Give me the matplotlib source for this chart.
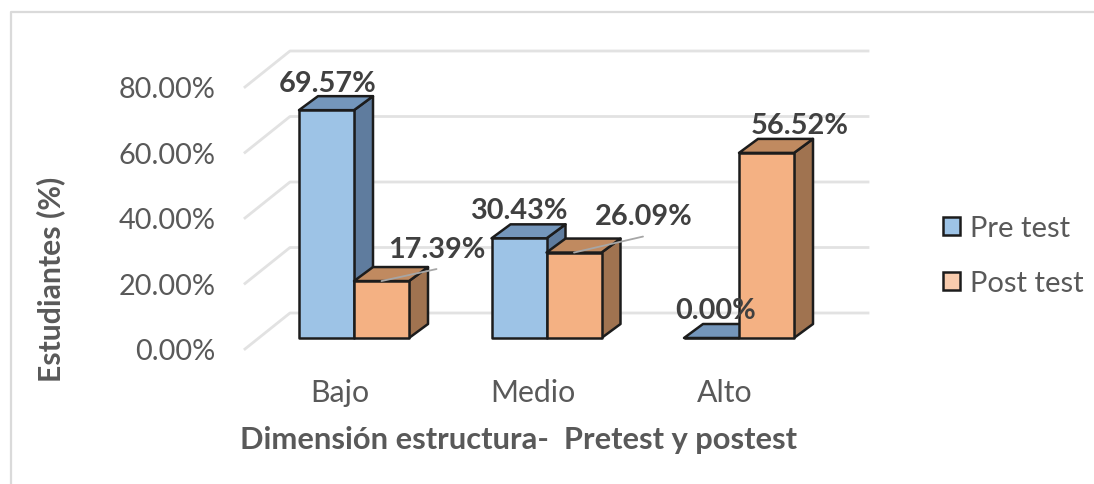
import matplotlib
matplotlib.use('Agg')
import matplotlib.pyplot as plt
from matplotlib.lines import Line2D
from matplotlib.patches import Patch, Polygon

plt.rcParams['font.family'] = ['Lato', 'DejaVu Sans']

categorias = ['Bajo', 'Medio', 'Alto']
pre_test = [69.57, 30.43, 0.00]
post_test = [17.39, 26.09, 56.52]
y_ticks = [0, 20, 40, 60, 80]

# desvio das etiquetas em pixels: (dx, dy) a partir do topo da barra
off_pre = [(1, 27), (0, 28), (4, 28)]
off_post = [(55, 32), (70, 37), (33, 28)]
# pontas das linhas guia (so onde a etiqueta ficou afastada)
guia_post = [(55, 12), (69, 16), None]

cor_pre = ('#9DC3E6', '#7496BB', '#5F7C9E')
cor_post = ('#F4B183', '#C08A60', '#A07350')
cor_borda = '#1C1C1C'

px_cat = 192.5
px_pct = 3.275
largura = 55 / px_cat
desvio = 14 / px_cat
fundo = 11 / px_pct
prof_x = 19 / px_cat
prof_y = 14 / px_pct
parede_x = 45 / px_cat
parede_y = 36 / px_pct

fig = plt.figure(figsize=(10.94, 4.85), dpi=100)
ax = fig.add_axes([245 / 1094, 135 / 485, 623 / 1094, 262 / 485])
ax.set_xlim(-95 / px_cat, 528 / px_cat)
ax.set_ylim(0, 80)
ax.patch.set_visible(False)
for s in ax.spines.values():
    s.set_visible(False)

x0, x1 = ax.get_xlim()
for t in y_ticks:
    ax.plot([x0, x0 + parede_x, x1], [t, t + parede_y, t + parede_y],
            color='#E2E2E2', lw=2, clip_on=False, zorder=1)


def barra(x, v, cores):
    base = fundo
    topo = fundo + v
    d = x + largura
    lado = [(d, base), (d + prof_x, base + prof_y), (d + prof_x, topo + prof_y), (d, topo)]
    cima = [(x, topo), (d, topo), (d + prof_x, topo + prof_y), (x + prof_x, topo + prof_y)]
    frente = [(x, base), (d, base), (d, topo), (x, topo)]
    for pts, cor in [(lado, cores[2]), (cima, cores[1]), (frente, cores[0])]:
        ax.add_patch(Polygon(pts, closed=True, facecolor=cor, edgecolor=cor_borda,
                             lw=1.8, joinstyle='round', clip_on=False, zorder=3))


for i in range(len(categorias)):
    barra(i + desvio - largura, pre_test[i], cor_pre)
    barra(i + desvio, post_test[i], cor_post)

for i in range(len(categorias)):
    xp = i + desvio - largura / 2
    xq = i + desvio + largura / 2
    ax.annotate(f'{pre_test[i]:.2f}%', (xp, fundo + pre_test[i]), xytext=off_pre[i],
                textcoords='offset pixels', ha='center', va='center', fontsize=20.8,
                fontweight='bold', color='#404040', zorder=5, annotation_clip=False)
    ax.annotate(f'{post_test[i]:.2f}%', (xq, fundo + post_test[i]), xytext=off_post[i],
                textcoords='offset pixels', ha='center', va='center', fontsize=20.8,
                fontweight='bold', color='#404040', zorder=5, annotation_clip=False)
    if guia_post[i] is not None:
        ax.annotate('', (xq, fundo + post_test[i]), xytext=guia_post[i],
                    textcoords='offset pixels', annotation_clip=False, zorder=4,
                    arrowprops=dict(arrowstyle='-', color='#A6A6A6', lw=1.3,
                                    shrinkA=0, shrinkB=0))

ax.set_yticks(y_ticks)
ax.set_yticklabels([f'{t:.2f}%' for t in y_ticks], fontsize=20.8, color='#595959')
ax.set_xticks(range(len(categorias)))
ax.set_xticklabels(categorias, fontsize=21.8, color='#595959')
ax.tick_params(length=0)
ax.tick_params(axis='y', pad=21)
ax.tick_params(axis='x', pad=21)
ax.set_ylabel('Estudiantes (%)', fontsize=21.7, fontweight='bold', color='#595959')
ax.yaxis.set_label_coords(-0.289, 0.271)
ax.set_xlabel('Dimensión estructura-  Pretest y postest', fontsize=22.2, fontweight='bold',
              color='#595959')
ax.xaxis.set_label_coords(0.439, -0.29)

handles = [Patch(facecolor='#9DC3E6', edgecolor='#1C1C1C', lw=1.8, label='Pre test'),
           Patch(facecolor='#F8CBAD', edgecolor='#1C1C1C', lw=1.8, label='Post test')]
fig.legend(handles=handles, loc='upper left', bbox_to_anchor=(943 / 1094, 1 - 216 / 485),
           frameon=False, fontsize=21, labelcolor='#595959', handlelength=0.59,
           handleheight=0.59, handletextpad=0.34, labelspacing=1.0, borderpad=0, borderaxespad=0)

# moldura cinza (so em cima e na esquerda, o resto foi cortado)
fig.add_artist(Line2D([11 / 1094, 11 / 1094, 1], [0, 1 - 13 / 485, 1 - 13 / 485],
                      color='#DADADA', lw=1.6))

fig.savefig('out.png', dpi=100)
